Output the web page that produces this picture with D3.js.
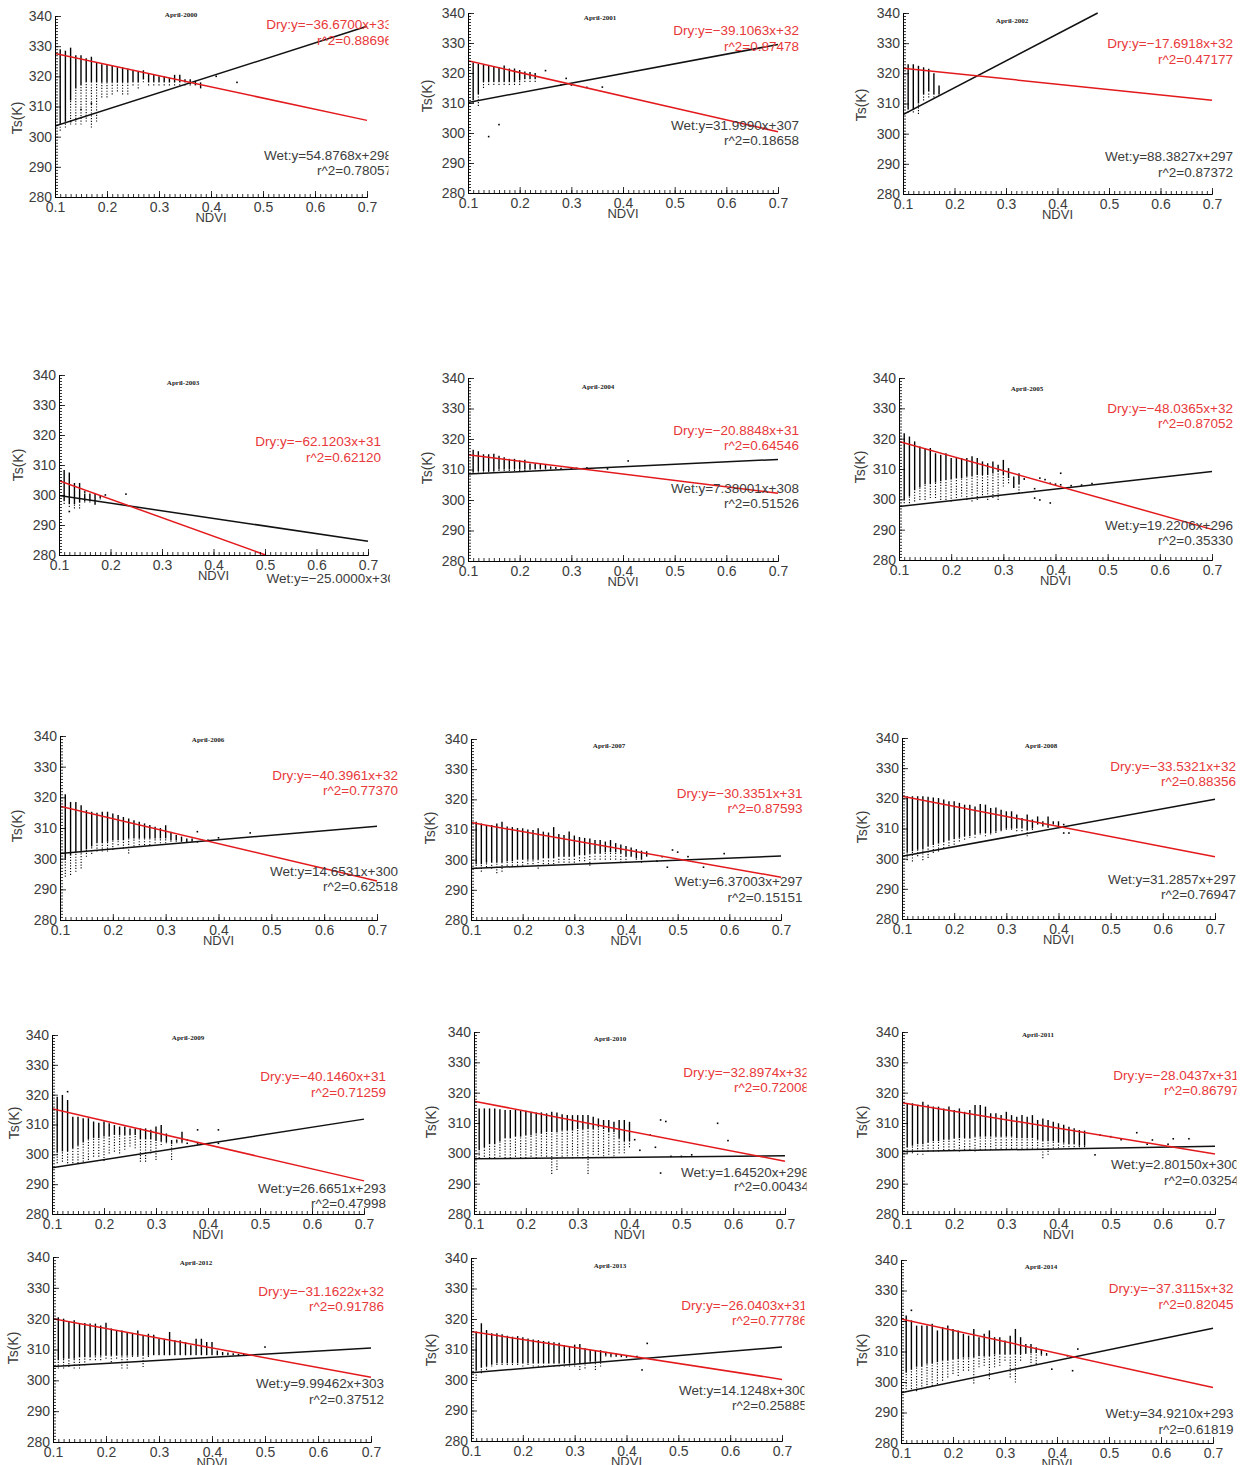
<!DOCTYPE html>
<html>
<head>
<meta charset="utf-8">
<script src="https://cdnjs.cloudflare.com/ajax/libs/d3/7.8.5/d3.min.js"></script>
<style>
  body { margin: 0; background: #fff; }
  svg { display: block; }
</style>
</head>
<body>
<svg id="chart" width="1244" height="1465"></svg>
<script>
// ----------------------------------------------------------------------------
// Data: April Ts/NDVI scatter (columns per NDVI bin) and dry/wet edge fits
// ----------------------------------------------------------------------------

const years = [2000, 2001, 2002, 2003, 2004, 2005, 2006, 2007, 2008, 2009, 2010, 2011, 2012, 2013, 2014];
const ndviTicks = [0.1, 0.2, 0.3, 0.4, 0.5, 0.6, 0.7];
const tsTicks = [280, 290, 300, 310, 320, 330, 340];

// dry edge (red) and wet edge (black) end points, [ndvi, Ts]
const dryLines = [
  [[0.1, 327.6], [0.7, 305.4]], [[0.1, 324.1], [0.7, 300.4]], [[0.1, 321.7], [0.7, 311.1]],
  [[0.1, 304.8], [0.501, 280]], [[0.1, 314.8], [0.7, 302.2]], [[0.1, 319.1], [0.7, 290.1]],
  [[0.1, 317.1], [0.7, 292.7]], [[0.1, 312.3], [0.7, 294.2]], [[0.1, 320.7], [0.7, 300.6]],
  [[0.1, 315.3], [0.7, 291.1]], [[0.1, 317.2], [0.7, 297.4]], [[0.1, 316.7], [0.7, 299.8]],
  [[0.1, 320.0], [0.7, 301.0]], [[0.1, 315.9], [0.7, 300.2]], [[0.1, 320.7], [0.7, 298.2]]
];
const wetLines = [
  [[0.1, 303.5], [0.7, 336.6]], [[0.1, 310.2], [0.7, 329.5]], [[0.1, 306.3], [0.478, 340]],
  [[0.1, 299.8], [0.7, 284.6]], [[0.1, 308.5], [0.7, 313.3]], [[0.1, 297.6], [0.7, 309.2]],
  [[0.1, 301.7], [0.7, 310.6]], [[0.1, 297.1], [0.7, 301.2]], [[0.1, 300.8], [0.7, 319.7]],
  [[0.1, 295.5], [0.7, 311.8]], [[0.1, 298.2], [0.7, 299.2]], [[0.1, 300.6], [0.7, 302.3]],
  [[0.1, 304.5], [0.7, 310.5]], [[0.1, 302.4], [0.7, 310.8]], [[0.1, 296.5], [0.7, 317.6]]
];

const dryText = [
  ['Dry:y=−36.6700x+33', 'r^2=0.88696'], ['Dry:y=−39.1063x+32', 'r^2=0.87478'],
  ['Dry:y=−17.6918x+32', 'r^2=0.47177'], ['Dry:y=−62.1203x+31', 'r^2=0.62120'],
  ['Dry:y=−20.8848x+31', 'r^2=0.64546'], ['Dry:y=−48.0365x+32', 'r^2=0.87052'],
  ['Dry:y=−40.3961x+32', 'r^2=0.77370'], ['Dry:y=−30.3351x+31', 'r^2=0.87593'],
  ['Dry:y=−33.5321x+32', 'r^2=0.88356'], ['Dry:y=−40.1460x+31', 'r^2=0.71259'],
  ['Dry:y=−32.8974x+32', 'r^2=0.72008'], ['Dry:y=−28.0437x+31', 'r^2=0.86797'],
  ['Dry:y=−31.1622x+32', 'r^2=0.91786'], ['Dry:y=−26.0403x+31', 'r^2=0.77786'],
  ['Dry:y=−37.3115x+32', 'r^2=0.82045']
];
const wetText = [
  ['Wet:y=54.8768x+298', 'r^2=0.78057'], ['Wet:y=31.9990x+307', 'r^2=0.18658'],
  ['Wet:y=88.3827x+297', 'r^2=0.87372'], ['Wet:y=−25.0000x+30', ''],
  ['Wet:y=7.38001x+308', 'r^2=0.51526'], ['Wet:y=19.2206x+296', 'r^2=0.35330'],
  ['Wet:y=14.6531x+300', 'r^2=0.62518'], ['Wet:y=6.37003x+297', 'r^2=0.15151'],
  ['Wet:y=31.2857x+297', 'r^2=0.76947'], ['Wet:y=26.6651x+293', 'r^2=0.47998'],
  ['Wet:y=1.64520x+298', 'r^2=0.00434'], ['Wet:y=2.80150x+300', 'r^2=0.03254'],
  ['Wet:y=9.99462x+303', 'r^2=0.37512'], ['Wet:y=14.1248x+300', 'r^2=0.25885'],
  ['Wet:y=34.9210x+293', 'r^2=0.61819']
];

// scatter columns: [ndvi, lowest Ts, bottom of dense part, highest Ts]
const cols2000 = [
  [0.10,301,303,328],[0.11,302,304,329],[0.12,303,305,328.5],[0.13,304,312,329.5],[0.14,304,316,327],
  [0.15,304,317,327],[0.16,305,318,326],[0.17,303,318,326.5],[0.18,305,318,324.5],[0.19,313,318,324],
  [0.20,313,318,324],[0.21,314,318,323.5],[0.22,315,318,323],[0.23,314,318,323],[0.24,314,318,322.5],
  [0.25,317,318,322],[0.26,316,318,321.5],[0.27,318,319,322],[0.28,317,318,321],[0.29,317,318,320.5],
  [0.30,317,318,320],[0.31,317,318,320],[0.32,317,318,319.5],[0.33,317,318,320.5],[0.34,317,318,320.5],
  [0.35,317,318,319],[0.36,317,317.5,319],[0.37,317,317,318.5],[0.38,316,316,318]
];
const out2000 = [[0.41,320],[0.45,318],[0.13,305],[0.15,309],[0.17,311]];

const cols2001 = [
  [0.10,309,310,324],[0.11,310,311,323.5],[0.12,309,313,323],[0.13,315,317,322.7],[0.14,316,317,322.5],
  [0.15,316,317,322.3],[0.16,316,317,322],[0.17,316,317,322.5],[0.18,316,317,321.5],[0.19,316,317,321.5],
  [0.20,316,317.5,321],[0.21,317,318,320.5],[0.22,317,318,320.3],[0.23,317,318,320]
];
const out2001 = [[0.25,320.8],[0.29,318.2],[0.33,315.2],[0.36,315.3],[0.14,298.8],[0.16,302.8],[0.28,316],[0.30,316]];

const cols2002 = [
  [0.10,306.5,307,323.5],[0.11,307,308,323],[0.12,307,308,323],[0.13,306.5,310,322.5],
  [0.14,311,313,322],[0.15,312,314,321.5],[0.16,312,313,320],[0.17,312.5,313,316]
];
const out2002 = [];

const cols2003 = [
  [0.10,298,299,303],[0.11,297,298,308.3],[0.12,296,297,307.5],[0.13,295.5,297,304],[0.14,295.5,297.5,304],
  [0.15,297.5,298,300.5],[0.16,297.5,298,300.5],[0.17,296.7,297,300.5],[0.18,298.5,299,300]
];
const out2003 = [[0.12,294.5],[0.19,300],[0.23,300.3],[0.15,301]];

const cols2004 = [
  [0.10,308.5,309,319],[0.11,308.8,309,316.5],[0.12,309,309.5,316],[0.13,309,309.5,315],[0.14,309.2,309.5,315],
  [0.15,309.3,309.5,315.2],[0.16,309.5,310,314.5],[0.17,309.5,310,314],[0.18,309.5,310,313.5],[0.19,309.5,310,313.5],
  [0.20,309.5,310,313],[0.21,309.5,310,313.2],[0.22,309.8,310,312],[0.23,310,310.2,312],[0.24,310,310.2,312],
  [0.25,310,310.2,311.5],[0.26,310,310.2,311],[0.27,310.2,310.2,310.8],[0.28,310.2,310.2,310.6]
];
const out2004 = [[0.30,310.3],[0.31,310.4],[0.33,310.5],[0.37,310.2],[0.41,312.8]];

const cols2005 = [
  [0.10,292,300,321.8],[0.11,298.7,300,321.8],[0.12,298.7,301,320.7],[0.13,299.3,303,319.1],[0.14,299.8,304,317.4],
  [0.15,299.8,305,316.9],[0.16,300.4,305,316.9],[0.17,300.4,305.5,315.2],[0.18,299.8,306,314.7],[0.19,299.8,306.4,315.2],
  [0.20,299.3,306.5,313.6],[0.21,300.4,307,313.6],[0.22,300.9,307,313.6],[0.23,299.8,307.5,313.6],[0.24,299.3,307.5,314.2],
  [0.25,299.8,308,313.6],[0.26,300.4,308,312.5],[0.27,299.8,308,311.9],[0.28,300.4,308.5,312.5],[0.29,299.8,309,311.4],
  [0.30,304.2,308,313.0],[0.31,305.3,307,310.3],[0.32,303.7,303.7,307.5],[0.33,302.0,305,308.6],[0.34,306.4,306.4,307.0]
];
const out2005 = [[0.36,303.5],[0.36,300.4],[0.37,307],[0.37,299.8],[0.38,306.5],[0.39,305.3],[0.39,298.8],
  [0.40,305],[0.41,308.6],[0.41,304.8],[0.43,304.5],[0.45,304.7],[0.47,305.2]];

const cols2006 = [
  [0.10,294.5,300,322.3],[0.11,294.1,300,321],[0.12,294.7,301,318.5],[0.13,295.7,302,318.5],[0.14,296.8,302,317.4],
  [0.15,300.6,303,315.8],[0.16,301.5,304,315.3],[0.17,302.3,305,315.0],[0.18,302.3,305,315.3],[0.19,302.3,305.5,315.3],
  [0.20,302.8,306,314.7],[0.21,304.4,306,314.2],[0.22,303.3,306,313.6],[0.23,301.7,306.6,313.1],[0.24,304,306.6,312.5],
  [0.25,304.4,306.6,312.0],[0.26,304.4,306.6,311.5],[0.27,304.4,306.6,311.0],[0.28,305,306.6,310.4],[0.29,305,306.6,310],
  [0.30,305,306.6,310.9],[0.31,305.5,306,308.8],[0.32,305.5,306,307.7],[0.33,305.5,305.5,307.2],[0.34,305.3,305.3,306.6],
  [0.35,305.5,305.5,306.6]
];
const out2006 = [[0.36,308.8],[0.36,305.5],[0.46,308.4],[0.38,306],[0.40,306.8]];

const cols2007 = [
  [0.10,296,298,317],[0.11,297,298.5,312.6],[0.12,296,298.5,312],[0.13,297.5,299,311.5],[0.14,297,299,311.5],
  [0.15,295.5,299,312],[0.16,296,299,312.6],[0.17,298,299.5,311],[0.18,298,299.5,310.8],[0.19,298,300,310.5],
  [0.20,298,300,310.4],[0.21,298.5,300,310],[0.22,298.5,300,309.8],[0.23,297,300,310.4],[0.24,298.5,300.5,309.3],
  [0.25,298.5,300.5,309],[0.26,298.5,300.5,310.8],[0.27,299,301,308.5],[0.28,299,301,308.2],[0.29,299,301,309.3],
  [0.30,299,301,308],[0.31,299.5,301.5,307.5],[0.32,299.5,301.5,307.2],[0.33,298,302,307],[0.34,300,302,306.5],
  [0.35,300,302,306.5],[0.36,300,302.5,306],[0.37,300,302.5,306.5],[0.38,300,302.5,305.5],[0.39,299,302,305],
  [0.40,299,301,304.5],[0.41,301,301,304],[0.42,300,300.5,303.5],[0.43,299,300,303],[0.44,301,301,302.8]
];
const out2007 = [[0.47,301],[0.48,297.5],[0.49,303.2],[0.50,302.5],[0.52,301],[0.55,297.5],[0.59,302],[0.46,299.5]];

const cols2008 = [
  [0.10,299.1,302,321.2],[0.11,299.5,302,320.7],[0.12,299.1,302.5,320.7],[0.13,300.8,303,320.7],[0.14,299.5,303,320.7],
  [0.15,300.2,304,320.5],[0.16,301.9,304.5,320.3],[0.17,302.4,305,320.1],[0.18,303.5,305.5,319.6],[0.19,304.1,306,319.0],
  [0.20,304.6,306.5,319.0],[0.21,305.7,307,318.5],[0.22,306.3,307.5,317.9],[0.23,306.9,307.5,317.9],[0.24,306.9,308,317.3],
  [0.25,308.0,308.5,318.1],[0.26,307.4,308.5,317.9],[0.27,308.0,308.5,316.8],[0.28,308.5,309,317.0],[0.29,309.1,309.5,316.2],
  [0.30,309.6,310,315.7],[0.31,309.6,310,315.7],[0.32,309.1,310,314.6],[0.33,309.1,310,313.5],[0.34,307.4,309.5,314.6],
  [0.35,309.5,310,313],[0.36,311.3,311.3,314.0],[0.37,310.7,310.7,312.4],[0.38,310.2,310.5,314.0],[0.39,311.3,311.3,312.4],
  [0.40,310.2,310.5,312.4]
];
const out2008 = [[0.41,311.3],[0.41,308.5],[0.42,308.5]];

const cols2009 = [
  [0.10,297.0,300,316.2],[0.11,297.0,300.5,319.3],[0.12,297.5,301,319.9],[0.13,297.0,301,318.2],[0.14,297.0,302,312.6],
  [0.15,297.0,303,312.6],[0.16,297.5,304,312.1],[0.17,298.1,305,312.1],[0.18,299.2,305.5,311.0],[0.19,299.2,305.5,310.6],
  [0.20,297.8,306,311.0],[0.21,300.3,306,310.4],[0.22,300.9,306.5,309.8],[0.23,300.3,306.5,309.3],[0.24,301.5,306.5,309.3],
  [0.25,302.6,306.5,308.7],[0.26,302.0,306.5,308.7],[0.27,297.5,305,308.7],[0.28,297.5,305,308.7],[0.29,300.3,305,308.2],
  [0.30,298.1,304.5,309.3],[0.31,303.1,304.5,309.8],[0.32,303.7,304,307.0],[0.33,298.1,303.5,304.8],[0.34,303.7,304,305],
  [0.35,303.7,304,307.6]
];
const out2009 = [[0.36,304.8],[0.36,303.7],[0.38,308.2],[0.42,308.2],[0.42,303.7],[0.38,303.5],[0.13,321]];

const cols2010 = [
  [0.10,298.4,301,316],[0.11,298.4,301,314.8],[0.12,298.9,302,314.8],[0.13,298.4,303,314.8],[0.14,298.4,303,314.8],
  [0.15,298.9,304,314.5],[0.16,298.4,305,314.3],[0.17,298.4,305,314.3],[0.18,298.9,305.5,314.3],[0.19,298.4,305.5,314.0],
  [0.20,298.4,306,314.0],[0.21,298.9,306,313.7],[0.22,298.4,306.5,313.5],[0.23,299,306.5,313.5],[0.24,298.9,307,313.2],
  [0.25,293.2,307,313.7],[0.26,294.5,307,313.5],[0.27,298.9,307.5,312.9],[0.28,299,307.5,312.6],[0.29,298.4,307.5,312.6],
  [0.30,299,308,312.6],[0.31,298.4,308,312.6],[0.32,293.2,308,312.6],[0.33,299.5,308,312.1],[0.34,299.5,308.5,311.5],
  [0.35,299,308,311.0],[0.36,299.5,307,311.0],[0.37,299,307,310.4],[0.38,300,305,311.0],[0.39,300,304,311.0],
  [0.40,302,304,310.4]
];
const out2010 = [[0.41,304.5],[0.42,301],[0.44,306],[0.45,302],[0.46,311],[0.46,293.5],[0.47,310.5],[0.50,299],
  [0.52,299.5],[0.57,309.9],[0.59,304.2],[0.48,299]];

const cols2011 = [
  [0.10,300.6,302,317],[0.11,300.0,302,316.5],[0.12,300.0,302.5,316.5],[0.13,299.5,303,316.0],[0.14,299.5,303,317.0],
  [0.15,300.6,303.5,316.0],[0.16,300.6,304,315.4],[0.17,300.6,304,315.4],[0.18,301,304.5,314.8],[0.19,301,304.5,315.4],
  [0.20,301,305,314.3],[0.21,300.6,305,314.8],[0.22,301.1,305,313.7],[0.23,301.1,305,314.3],[0.24,300.6,305.5,315.9],
  [0.25,301.1,305.5,315.9],[0.26,301.1,305.5,315.4],[0.27,301.1,305.5,313.2],[0.28,301.5,305.5,313.2],[0.29,301.5,305.5,312.6],
  [0.30,301.5,305.5,313.7],[0.31,301.5,305.5,312.6],[0.32,301.5,305,312.1],[0.33,301.5,305,312.6],[0.34,301.5,305,312.1],
  [0.35,301.5,305,312.6],[0.36,301.5,304.5,311.0],[0.37,298.4,304,311.5],[0.38,299.5,304,311.0],[0.39,301.6,304,310.4],
  [0.40,301.6,303.5,309.9],[0.41,302,303.5,309.4],[0.42,302,303,308.8],[0.43,302,303,308.3],[0.44,302,302.5,307.7],
  [0.45,302,302.5,307.5]
];
const out2011 = [[0.47,299.5],[0.48,306],[0.50,305.5],[0.52,304.5],[0.55,306.8],[0.58,304.4],[0.61,303],
  [0.62,304.8],[0.65,304.8],[0.57,303]];

const cols2012 = [
  [0.10,302.2,306,321.1],[0.11,303.8,306.5,320.5],[0.12,303.8,307,320.0],[0.13,304.3,307,318.9],[0.14,303.8,307,319.5],
  [0.15,303.8,307.5,318.4],[0.16,304.9,307.5,318.6],[0.17,306.5,307.5,318.4],[0.18,306.5,308,318.4],[0.19,306.5,308,317.8],
  [0.20,307.0,308,318.7],[0.21,305.9,308,316.8],[0.22,307.0,308,316.2],[0.23,303.8,308,316.2],[0.24,303.8,308,315.7],
  [0.25,307.6,308,315.4],[0.26,307.6,308,316.2],[0.27,304.3,308,314.6],[0.28,307.6,308,315.1],[0.29,308.1,308.2,314.8],
  [0.30,308.1,308.2,313.5],[0.31,308.1,308.2,313.5],[0.32,308.1,308.2,315.7],[0.33,308.1,308.2,313.0],[0.34,308.1,308.2,313.0],
  [0.35,308.1,308.2,312.4],[0.36,308.1,308.2,311.4],[0.37,308.1,308.2,313.5],[0.38,308.1,308.2,313.5],[0.39,308.1,308.2,312.4],
  [0.40,308.1,308.2,312.4],[0.41,308.1,308.1,309.7],[0.42,308.1,308.1,309.2],[0.43,308.1,308.1,309],[0.44,308.1,308.1,308.8]
];
const out2012 = [[0.50,310.8],[0.45,308.3],[0.46,308.3]];

const cols2013 = [
  [0.10,298.3,302,318.1],[0.11,300.5,303,315.9],[0.12,302.2,304,318.6],[0.13,303.3,304.5,316.4],[0.14,304.4,305,315.3],
  [0.15,304.9,305.5,315.3],[0.16,304.9,305.5,315.0],[0.17,304.9,305.5,314.5],[0.18,304.9,305.5,314.2],[0.19,304.9,305.5,314.4],
  [0.20,304.4,305.5,314.0],[0.21,304.9,305.5,313.6],[0.22,304.4,305.5,313.3],[0.23,304.4,305.5,313.1],[0.24,304.4,305.5,312.8],
  [0.25,304.4,305.5,312.6],[0.26,304.4,305.5,312.4],[0.27,304.4,305.5,312.2],[0.28,304.4,305.5,311.5],[0.29,304.4,305.5,311.0],
  [0.30,304.4,305.5,311.6],[0.31,303.3,305.5,311.8],[0.32,303.8,305.5,310.4],[0.33,305.5,306,309.8],[0.34,303.3,306,309.8],
  [0.35,304.4,306,309.8],[0.36,307.7,308,309.3],[0.37,307.5,307.6,308.8],[0.38,307.6,307.6,308.8],[0.39,307.5,307.5,308.5],
  [0.40,307.3,307.3,308.2]
];
const out2013 = [[0.42,307.7],[0.43,303.3],[0.44,312]];

const cols2014 = [
  [0.10,297.0,303,321.8],[0.11,297.6,303,321.8],[0.12,297.6,304,320.2],[0.13,297.0,305,318.5],[0.14,297.6,305,318.5],
  [0.15,298.1,306,318.5],[0.16,298.7,306,319.1],[0.17,299.3,306.5,316.9],[0.18,300.4,307,318.0],[0.19,301.5,307,318.5],
  [0.20,302.6,307.5,317.4],[0.21,302.0,307.5,316.9],[0.22,303.7,308,315.8],[0.23,303.7,308,315.2],[0.24,299.5,308,317.4],
  [0.25,304.8,308.5,314.7],[0.26,305.3,308.5,315.8],[0.27,300.9,308.5,316.9],[0.28,304.8,309,314.7],[0.29,305.3,309,314.7],
  [0.30,307.0,309,313.6],[0.31,301.5,309,315.2],[0.32,299.8,309,317.4],[0.33,307.0,309.2,314.7],[0.34,309.2,309.5,312.5],
  [0.35,305.3,309.5,312.5],[0.36,305.9,309.5,311.4],[0.37,308.6,309,310.8],[0.38,308.6,308.6,309.5]
];
const out2014 = [[0.39,304.2],[0.42,308.6],[0.43,303.7],[0.44,310.8],[0.12,323.5]];

const columns = [cols2000, cols2001, cols2002, cols2003, cols2004, cols2005, cols2006, cols2007,
  cols2008, cols2009, cols2010, cols2011, cols2012, cols2013, cols2014];
const outliers = [out2000, out2001, out2002, out2003, out2004, out2005, out2006, out2007,
  out2008, out2009, out2010, out2011, out2012, out2013, out2014];

// ----------------------------------------------------------------------------
// Layout of the 15 panels (pixel positions)
// ----------------------------------------------------------------------------

// [left, right, top(340), bottom(280)]
const panelBox = [
  [55, 367, 16, 197], [468, 778, 13, 193], [903, 1212, 13, 194],
  [59, 368, 375, 555], [468, 778, 378, 561], [899, 1212, 378, 560],
  [60, 377, 736, 920], [471, 781, 739, 920], [902, 1215, 738, 919],
  [52, 364, 1035, 1214], [474, 785, 1032, 1214], [902, 1215, 1032, 1214],
  [53, 371, 1257, 1442], [471, 782, 1258, 1441], [901, 1213, 1260, 1443]
];
const titlePos = [
  [181, 15], [600, 18], [1012, 21], [183, 383], [598, 387], [1027, 389],
  [208, 740], [609, 746], [1041, 746], [188, 1038], [610, 1039], [1038, 1035],
  [196, 1263], [610, 1266], [1041, 1267]
];
const yLabelPos = [
  [17, 118], [427, 96], [861, 105], [18, 465], [427, 468], [860, 467],
  [17, 826], [430, 828], [862, 827], [14, 1123], [431, 1122], [862, 1122],
  [13, 1348], [431, 1350], [862, 1350]
];
// [dry end x, dry line1 y, dry line2 y, wet end x, wet line1 y, wet line2 y, clip x]
const notePos = [
  [392, 24, 40, 392, 155, 170, 388.5], [799, 30, 46, 799, 125, 140, 1244], [1233, 43.5, 59.5, 1233, 156, 172, 1244],
  [381, 441, 457, 395, 578.5, 594, 390], [799, 430, 445, 799, 488.3, 503.3, 1244], [1233, 408.3, 423.3, 1233, 525, 540.7, 1244],
  [398, 775.7, 790.5, 398, 871.7, 886.7, 1244], [802.5, 793.3, 808, 802.5, 881.7, 897.7, 1244], [1236, 766.7, 781.7, 1236, 879, 894.3, 1244],
  [386, 1076.7, 1092.5, 386, 1188.3, 1203.3, 1244], [809, 1072.3, 1087.7, 809, 1172.3, 1186.7, 806.5], [1239, 1075.7, 1090.7, 1239, 1164.3, 1180, 1236.5],
  [384, 1291.7, 1306.7, 384, 1383.3, 1399.3, 1244], [807, 1305, 1320, 807, 1390, 1405.7, 804.5], [1233.5, 1288.3, 1304, 1233.5, 1413.3, 1429.3, 1244]
];

const sansFont = '"Liberation Sans", Arial, sans-serif';
const red = '#e3191c';
const redText = '#e8383a';
const grayText = '#3c3c3c';

const svg = d3.select('#chart');
const defs = svg.append('defs');

// ----------------------------------------------------------------------------
// Draw each panel
// ----------------------------------------------------------------------------

years.forEach((yr, i) => {
  const [left, right, top, bottom] = panelBox[i];
  const x = d3.scaleLinear().domain([0.1, 0.7]).range([left, right]);
  const y = d3.scaleLinear().domain([280, 340]).range([bottom, top]);

  defs.append('clipPath').attr('id', `plot${yr}`).append('rect')
    .attr('x', left).attr('y', top - 1).attr('width', right - left + 1).attr('height', bottom - top + 2);
  defs.append('clipPath').attr('id', `note${yr}`).append('rect')
    .attr('x', left).attr('y', top - 20).attr('width', notePos[i][6] - left).attr('height', bottom - top + 60);

  const g = svg.append('g').attr('class', `panel-${yr}`);
  const plot = g.append('g').attr('clip-path', `url(#plot${yr})`);

  // scatter: sparse lower part of each NDVI column
  plot.append('g').selectAll('line')
    .data(columns[i].filter(d => d[2] > d[1]))
    .join('line')
    .attr('x1', d => x(d[0])).attr('x2', d => x(d[0]))
    .attr('y1', d => y(d[1])).attr('y2', d => y(d[2]))
    .attr('stroke', '#000').attr('stroke-width', 1.1)
    .attr('stroke-dasharray', '1.2 1.6');

  // scatter: dense upper part of each column
  plot.append('g').selectAll('line')
    .data(columns[i])
    .join('line')
    .attr('x1', d => x(d[0])).attr('x2', d => x(d[0]))
    .attr('y1', d => y(d[2])).attr('y2', d => y(d[3]))
    .attr('stroke', '#000').attr('stroke-width', 1.4);

  plot.append('g').selectAll('rect')
    .data(outliers[i])
    .join('rect')
    .attr('x', d => x(d[0]) - 0.8).attr('y', d => y(d[1]) - 0.8)
    .attr('width', 1.6).attr('height', 1.6)
    .attr('fill', '#000');

  const edge = d3.line().x(d => x(d[0])).y(d => y(d[1]));

  plot.append('path').datum(wetLines[i])
    .attr('d', edge).attr('fill', 'none')
    .attr('stroke', '#111').attr('stroke-width', 1.5);

  plot.append('path').datum(dryLines[i])
    .attr('d', edge).attr('fill', 'none')
    .attr('stroke', red).attr('stroke-width', 1.5);

  // axes --------------------------------------------------------------------
  const xAxis = g.append('g').attr('transform', `translate(0,${bottom})`);
  xAxis.call(d3.axisBottom(x).tickValues(x.ticks(60)).tickSize(-3).tickSizeOuter(0).tickFormat(''));
  xAxis.append('g').call(d3.axisBottom(x).tickValues(ndviTicks).tickSize(-6).tickSizeOuter(0)
    .tickPadding(5).tickFormat(d3.format('.1f')));

  const yAxis = g.append('g').attr('transform', `translate(${left},0)`);
  yAxis.call(d3.axisLeft(y).tickValues(y.ticks(60)).tickSize(-3).tickSizeOuter(0).tickFormat(''));
  yAxis.append('g').call(d3.axisLeft(y).tickValues(tsTicks).tickSize(-6).tickSizeOuter(0)
    .tickPadding(3).tickFormat(d3.format('d')));

  g.selectAll('.domain').attr('stroke', '#000').attr('stroke-width', 1);
  g.selectAll('.tick line').attr('stroke', '#000').attr('stroke-width', 0.8);
  g.selectAll('.tick text')
    .attr('font-family', sansFont).attr('font-size', 14)
    .attr('fill', grayText);

  // labels ------------------------------------------------------------------
  g.append('text')
    .text('NDVI')
    .attr('x', (left + right) / 2).attr('y', bottom + 20).attr('dy', '0.35em')
    .attr('text-anchor', 'middle')
    .attr('font-family', sansFont).attr('font-size', 13)
    .attr('textLength', 31).attr('lengthAdjust', 'spacingAndGlyphs')
    .attr('fill', grayText);

  g.append('text')
    .text('Ts(K)')
    .attr('transform', `translate(${yLabelPos[i][0]},${yLabelPos[i][1]}) rotate(-90)`)
    .attr('dy', '0.35em')
    .attr('text-anchor', 'middle')
    .attr('font-family', sansFont).attr('font-size', 14)
    .attr('fill', grayText);

  g.append('text')
    .text(`April-${yr}`)
    .attr('x', titlePos[i][0]).attr('y', titlePos[i][1]).attr('dy', '0.35em')
    .attr('text-anchor', 'middle')
    .attr('font-family', '"Liberation Serif", "Times New Roman", serif')
    .attr('font-size', 7).attr('font-weight', 'bold')
    .attr('fill', '#222');

  const notes = g.append('g').attr('clip-path', `url(#note${yr})`)
    .attr('font-family', sansFont).attr('font-size', 13.5)
    .attr('text-anchor', 'end');
  const [dx, dy1, dy2, wx, wy1, wy2] = notePos[i];

  notes.selectAll('text.dry')
    .data(dryText[i])
    .join('text').attr('class', 'dry')
    .text(d => d)
    .attr('x', dx)
    .attr('y', (d, j) => j === 0 ? dy1 : dy2)
    .attr('dy', '0.35em')
    .attr('fill', redText);

  notes.selectAll('text.wet')
    .data(wetText[i].filter(d => d !== ''))
    .join('text').attr('class', 'wet')
    .text(d => d)
    .attr('x', wx)
    .attr('y', (d, j) => j === 0 ? wy1 : wy2)
    .attr('dy', '0.35em')
    .attr('fill', grayText);
});
</script>
</body>
</html>
